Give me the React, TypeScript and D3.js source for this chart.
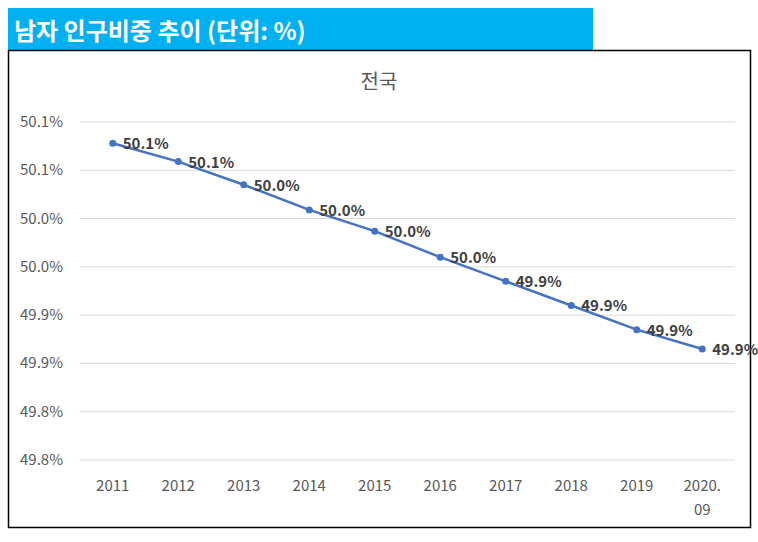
import React from "react";
import * as d3 from "d3";

const years = ["2011", "2012", "2013", "2014", "2015", "2016", "2017", "2018", "2019", "2020.09"];
const values = [50.103, 50.084, 50.060, 50.034, 50.012, 49.985, 49.960, 49.935, 49.910, 49.890];
const pointLabels = ["50.1%", "50.1%", "50.0%", "50.0%", "50.0%", "50.0%", "49.9%", "49.9%", "49.9%", "49.9%"];
const yTicks = [50.125, 50.075, 50.025, 49.975, 49.925, 49.875, 49.825, 49.775];
const yTickLabels = ["50.1%", "50.1%", "50.0%", "50.0%", "49.9%", "49.9%", "49.8%", "49.8%"];

const font = "'Malgun Gothic', 'Noto Sans CJK KR', 'Noto Sans', sans-serif";

export default function App() {
  const x = d3.scaleBand<string>().domain(years).range([80, 735]);
  const y = d3.scaleLinear().domain([49.775, 50.125]).range([460, 122]);
  const line = d3
    .line<number>()
    .x((_, i) => x(years[i])! + x.bandwidth() / 2)
    .y((d) => y(d));

  return (
    <svg width={758} height={542} style={{ position: "absolute", left: 0, top: 0 }}>
      <rect x={0} y={0} width={758} height={542} fill="#fff" />
      <rect x={8} y={8} width={585} height={42} fill="#00B0F0" />
      <text x={14} y={40} fill="#fff" fontSize={24} fontWeight="bold" fontFamily={font}>
        남자 인구비중 추이 (단위: %)
      </text>
      <rect x={8.5} y={50.5} width={742} height={477} fill="none" stroke="#000" strokeWidth={1.5} />
      <text x={379} y={89} textAnchor="middle" fontSize={20} fill="#595959" fontFamily={font}>
        전국
      </text>
      {yTicks.map((t, i) => (
        <g key={i}>
          <line x1={80} x2={735} y1={y(t)} y2={y(t)} stroke="#d9d9d9" />
          <text x={63} y={y(t) + 5} textAnchor="end" fontSize={15} fill="#595959" fontFamily={font}>
            {yTickLabels[i]}
          </text>
        </g>
      ))}
      {years.map((yr) => {
        const cx = x(yr)! + x.bandwidth() / 2;
        const parts = yr.includes(".") ? [yr.split(".")[0] + ".", yr.split(".")[1]] : [yr];
        return (
          <text key={yr} x={cx} y={491} textAnchor="middle" fontSize={15} fill="#595959" fontFamily={font}>
            {parts.map((p, j) => (
              <tspan key={j} x={cx} dy={j === 0 ? 0 : 24}>{p}</tspan>
            ))}
          </text>
        );
      })}
      <path d={line(values)!} fill="none" stroke="#4472C4" strokeWidth={2.5} />
      {values.map((v, i) => {
        const cx = x(years[i])! + x.bandwidth() / 2;
        return (
          <g key={i}>
            <circle cx={cx} cy={y(v)} r={3.5} fill="#4472C4" />
            <text x={cx + 10} y={y(v) + 6} fontSize={15} fontWeight="bold" fill="#404040" fontFamily={font}>
              {pointLabels[i]}
            </text>
          </g>
        );
      })}
    </svg>
  );
}
